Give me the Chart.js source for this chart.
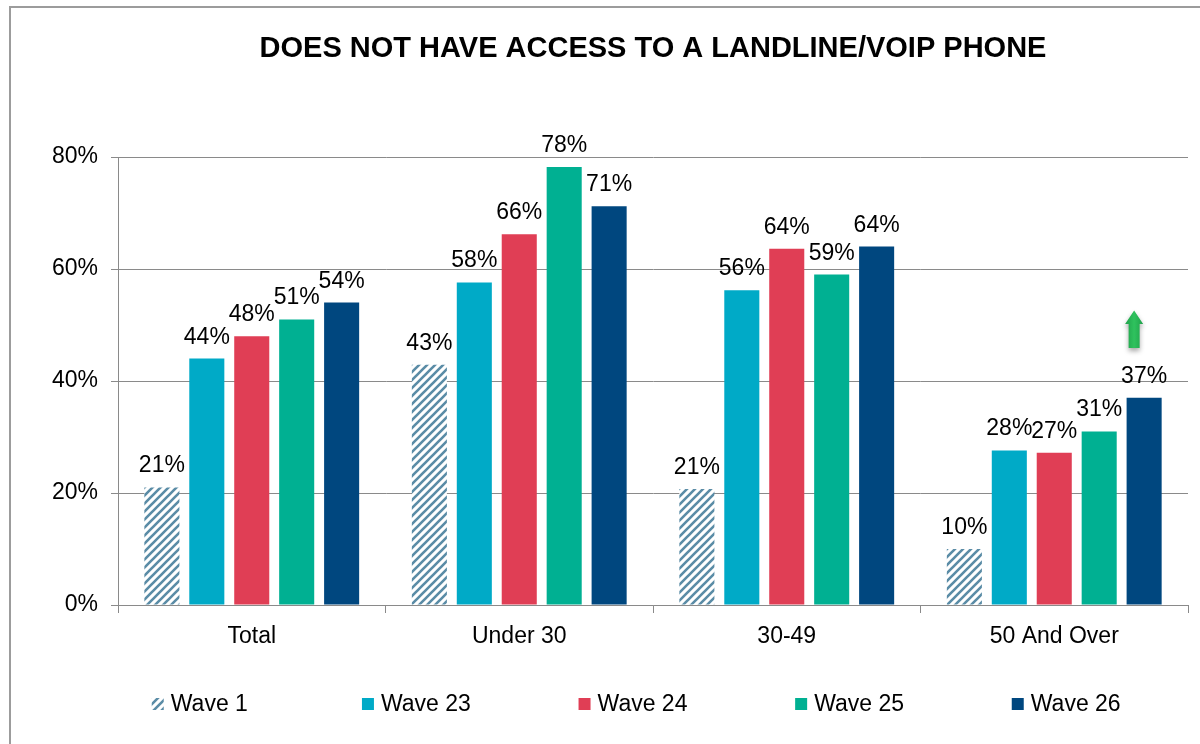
<!DOCTYPE html>
<html>
<head>
<meta charset="utf-8">
<script src="https://cdn.jsdelivr.net/npm/chart.js@4.4.0/dist/chart.umd.min.js"></script>
<style>
  html, body { margin: 0; padding: 0; background: #fff; overflow: hidden; }
  #frame { position: absolute; left: 9px; top: 6px; width: 1300px; height: 900px;
           border-left: 2px solid #9c9c9c; border-top: 2px solid #9c9c9c; }
  #landlineChart { position: absolute; left: 0; top: 0; }
</style>
</head>
<body>
<div id="frame"></div>
<canvas id="landlineChart" width="1200" height="744"></canvas>
<script>
const chartTitle = 'DOES NOT HAVE ACCESS TO A LANDLINE/VOIP PHONE';
const categories = ['Total', 'Under 30', '30-49', '50 And Over'];
const waveNames = ['Wave 1', 'Wave 23', 'Wave 24', 'Wave 25', 'Wave 26'];
const wave1 = [21, 42.9, 20.7, 10];
const wave23 = [44, 57.6, 56.2, 27.6];
const wave24 = [48, 66.2, 63.6, 27.2];
const wave25 = [51, 78.2, 59, 31];
const wave26 = [54, 71.2, 64, 37];
const yTicks = [0, 20, 40, 60, 80];

const FONT = '"Liberation Sans", Arial, sans-serif';
const GREY = '#8a8a8a';

function hatch(color) {
    const c = document.createElement('canvas');
    c.width = 8; c.height = 8;
    const g = c.getContext('2d');
    g.fillStyle = '#fff';
    g.fillRect(0, 0, 8, 8);
    g.strokeStyle = color;
    g.lineWidth = 2.6;
    g.beginPath();
    g.moveTo(-2, 10); g.lineTo(10, -2);
    g.moveTo(-6, 6); g.lineTo(6, -6);
    g.moveTo(2, 14); g.lineTo(14, 2);
    g.stroke();
    return g.createPattern(c, 'repeat');
}

const canvas = document.getElementById('landlineChart');
const ctx = canvas.getContext('2d');
const wave1Fill = hatch('#5a8ca6');
const fills = [wave1Fill, '#00aac7', '#e03e55', '#00b092', '#00477f'];
const seriesData = [wave1, wave23, wave24, wave25, wave26];

// title, value labels, arrow and legend
const extras = {
    id: 'extras',
    afterDatasetsDraw(chart) {
        const c = chart.ctx;
        const area = chart.chartArea;
        const yScale = chart.scales.y;
        c.save();
        c.fillStyle = '#000';
        c.font = 'bold 29px ' + FONT;
        c.textAlign = 'center';
        c.textBaseline = 'middle';
        c.fillText(chartTitle, (area.left + area.right) / 2, 49);

        c.font = '23px ' + FONT;
        c.textBaseline = 'alphabetic';
        chart.data.datasets.forEach((ds, i) => {
            chart.getDatasetMeta(i).data.forEach((bar, j) => {
                c.fillText(Math.round(ds.data[j]) + '%', bar.x, bar.y - 15);
            });
        });

        // green up arrow over the last bar
        const last = chart.getDatasetMeta(4).data[3];
        const ax = last.x - 10;
        const yTop = yScale.getPixelForValue(52.6);
        const yHead = yScale.getPixelForValue(50.2);
        const yBot = yScale.getPixelForValue(45.9);
        c.shadowColor = 'rgba(0,0,0,0.35)';
        c.shadowBlur = 5;
        c.shadowOffsetY = 3;
        const grad = c.createLinearGradient(ax - 9, 0, ax + 9, 0);
        grad.addColorStop(0, '#1fa24a');
        grad.addColorStop(0.5, '#2fc25e');
        grad.addColorStop(1, '#1fa24a');
        c.fillStyle = grad;
        c.beginPath();
        c.moveTo(ax, yTop);
        c.lineTo(ax + 9, yHead);
        c.lineTo(ax + 5.5, yHead);
        c.lineTo(ax + 5.5, yBot);
        c.lineTo(ax - 5.5, yBot);
        c.lineTo(ax - 5.5, yHead);
        c.lineTo(ax - 9, yHead);
        c.closePath();
        c.fill();
        c.restore();

        // legend in equal slots
        c.save();
        c.font = '23px ' + FONT;
        c.textBaseline = 'middle';
        c.textAlign = 'left';
        const slot = 216.6;
        const center = 633;
        const ly = 704;
        waveNames.forEach((name, i) => {
            const tw = c.measureText(name).width;
            const w = 12 + 7 + tw;
            const sx = center + (i - 2) * slot - w / 2;
            c.fillStyle = fills[i];
            c.fillRect(sx, ly - 6, 12, 12);
            c.fillStyle = '#000';
            c.fillText(name, sx + 19, ly + 1);
        });
        c.restore();
    }
};

new Chart(ctx, {
    type: 'bar',
    data: {
        labels: categories,
        datasets: waveNames.map((name, i) => ({
            label: name,
            data: seriesData[i],
            backgroundColor: fills[i],
            borderWidth: 0,
            categoryPercentage: 0.84,
            barPercentage: 0.78
        }))
    },
    options: {
        responsive: false,
        animation: false,
        layout: { padding: { left: 0, right: 12, top: 157, bottom: 0 } },
        scales: {
            x: {
                afterFit(scale) { scale.height = 139; },
                grid: { drawOnChartArea: false, color: GREY, tickLength: 8 },
                border: { color: GREY },
                ticks: { color: '#000', padding: 10, font: { family: FONT, size: 23 } }
            },
            y: {
                min: 0,
                max: 80,
                afterFit(scale) { scale.width = 118; },
                afterBuildTicks(scale) { scale.ticks = yTicks.map(v => ({ value: v })); },
                grid: { color: GREY, tickLength: 7 },
                border: { color: GREY },
                ticks: {
                    color: '#000',
                    padding: 13,
                    font: { family: FONT, size: 23 },
                    callback: function (value) {
                        return value + '%';
                    }
                }
            }
        },
        plugins: {
            legend: { display: false },
            title: { display: false },
            tooltip: { enabled: false }
        }
    },
    plugins: [extras]
});
</script>
</body>
</html>
